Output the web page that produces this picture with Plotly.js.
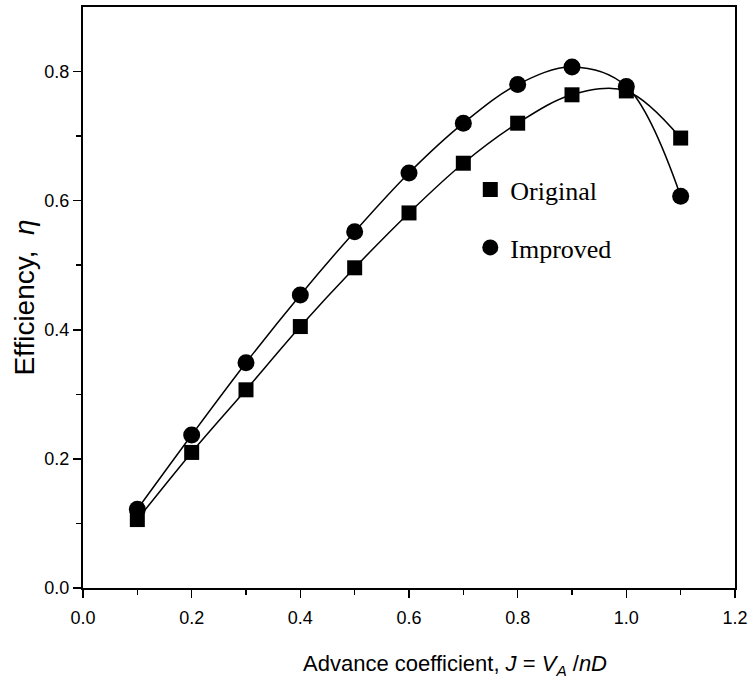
<!DOCTYPE html>
<html>
<head>
<meta charset="utf-8">
<script src="https://cdn.plot.ly/plotly-3.0.1.min.js"></script>
<style>
  html, body { margin: 0; padding: 0; background: #fff; }
  #chart { width: 751px; height: 683px; }
</style>
</head>
<body>
<div id="chart"></div>
<script>
// Advance coefficient J
const advanceJ = [0.1, 0.2, 0.3, 0.4, 0.5, 0.6, 0.7, 0.8, 0.9, 1.0, 1.1];
// Efficiency values
const originalEff = [0.106, 0.210, 0.307, 0.405, 0.496, 0.581, 0.658, 0.720, 0.764, 0.770, 0.697];
const improvedEff = [0.122, 0.237, 0.349, 0.454, 0.552, 0.643, 0.720, 0.780, 0.807, 0.777, 0.607];
const seriesNames = ["Original", "Improved"];
const xTickVals = [0.0, 0.2, 0.4, 0.6, 0.8, 1.0, 1.2];
const xTickText = ["0.0", "0.2", "0.4", "0.6", "0.8", "1.0", "1.2"];
const yTickVals = [0.0, 0.2, 0.4, 0.6, 0.8];
const yTickText = ["0.0", "0.2", "0.4", "0.6", "0.8"];

const sansFont = "Liberation Sans, Arial, sans-serif";
const serifFont = "Liberation Serif, Times New Roman, serif";

const splineLine = { color: "#000", width: 1.5, shape: "spline", smoothing: 1 };

const traces = [
  // smooth connecting curves (not in legend)
  { x: advanceJ, y: originalEff, type: "scatter", mode: "lines", line: splineLine, showlegend: false, hoverinfo: "skip" },
  { x: advanceJ, y: improvedEff, type: "scatter", mode: "lines", line: splineLine, showlegend: false, hoverinfo: "skip" },
  // data markers (in legend, marker only)
  {
    x: advanceJ, y: originalEff, name: seriesNames[0], legendgroup: "a",
    type: "scatter", mode: "markers",
    marker: { symbol: "square", size: 15, color: "#000" }
  },
  {
    x: advanceJ, y: improvedEff, name: seriesNames[1], legendgroup: "b",
    type: "scatter", mode: "markers",
    marker: { symbol: "circle", size: 17, color: "#000" }
  }
];

const axisCommon = {
  showline: true, linecolor: "#000", linewidth: 2, mirror: true,
  showgrid: false, zeroline: false,
  ticks: "outside", ticklen: 8, tickwidth: 1.5, tickcolor: "#000",
  tickfont: { family: sansFont, size: 18, color: "#000" },
  tickmode: "array"
};

const layout = {
  width: 751, height: 683,
  paper_bgcolor: "#fff", plot_bgcolor: "#fff",
  margin: { l: 83, r: 16, t: 7, b: 95 },
  showlegend: true,
  legend: {
    x: 0.594, y: 0.726, xanchor: "left", yanchor: "top",
    font: { family: serifFont, size: 26, color: "#000" },
    bgcolor: "rgba(0,0,0,0)", borderwidth: 0,
    traceorder: "grouped", tracegroupgap: 21
  },
  xaxis: Object.assign({}, axisCommon, {
    range: [0, 1.2], tickvals: xTickVals, ticktext: xTickText,
    minor: { tickvals: [0.1, 0.3, 0.5, 0.7, 0.9, 1.1], ticks: "outside", ticklen: 5, tickwidth: 1.5, tickcolor: "#000", showgrid: false },
    ticklabelstandoff: 4
  }),
  yaxis: Object.assign({}, axisCommon, {
    range: [0, 0.9], tickvals: yTickVals, ticktext: yTickText,
    minor: { tickvals: [0.1, 0.3, 0.5, 0.7], ticks: "outside", ticklen: 5, tickwidth: 1.5, tickcolor: "#000", showgrid: false },
    title: { text: "Efficiency,&nbsp;&nbsp;<i>η</i>", font: { family: sansFont, size: 28, color: "#000" }, standoff: 2 }
  }),
  annotations: [
    {
      xref: "paper", yref: "paper", x: 0.571, y: -0.105, xanchor: "center", yanchor: "top",
      showarrow: false,
      text: "Advance coefficient, <i>J</i> = <i>V<sub>A</sub></i> /<i>nD</i>",
      font: { family: sansFont, size: 22, color: "#000" }
    }
  ]
};

Plotly.newPlot("chart", traces, layout, { displayModeBar: false, staticPlot: true });
</script>
</body>
</html>
